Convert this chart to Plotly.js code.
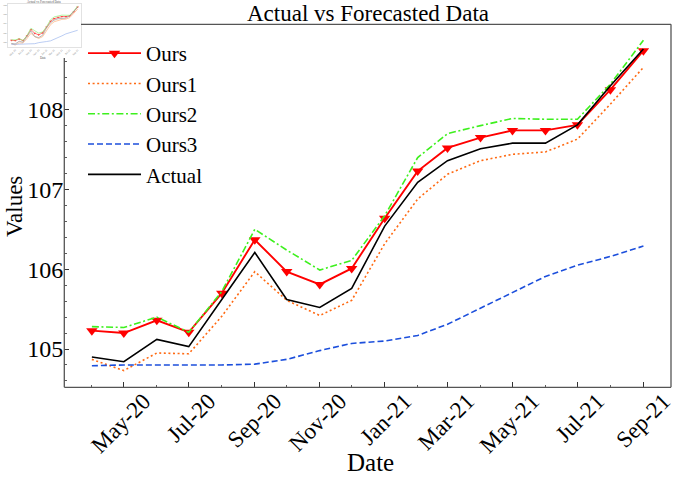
<!DOCTYPE html>
<html>
<head>
<meta charset="utf-8">
<script src="https://cdn.plot.ly/plotly-3.0.1.min.js"></script>
<style>
  html, body { margin: 0; padding: 0; background: #fff; }
  #chart { width: 675px; height: 478px; }
</style>
</head>
<body>
<div id="chart"></div>
<script>
// Monthly observations, Apr 2020 - Sep 2021
const dates = [
  '2020-04-01', '2020-05-01', '2020-06-01', '2020-07-01', '2020-08-01', '2020-09-01',
  '2020-10-01', '2020-11-01', '2020-12-01', '2021-01-01', '2021-02-01', '2021-03-01',
  '2021-04-01', '2021-05-01', '2021-06-01', '2021-07-01', '2021-08-01', '2021-09-01'
];
const ours  = [105.23, 105.20, 105.36, 105.21, 105.70, 106.37, 105.97, 105.81, 106.01,
               106.64, 107.23, 107.52, 107.65, 107.74, 107.74, 107.81, 108.25, 108.74];
const ours1 = [104.87, 104.73, 104.95, 104.94, 105.41, 105.97, 105.61, 105.42, 105.61,
               106.32, 106.88, 107.19, 107.36, 107.44, 107.47, 107.63, 108.07, 108.53];
const ours2 = [105.28, 105.27, 105.40, 105.21, 105.72, 106.50, 106.24, 105.99, 106.11,
               106.67, 107.40, 107.70, 107.80, 107.89, 107.88, 107.88, 108.32, 108.87];
const ours3 = [104.79, 104.80, 104.80, 104.80, 104.80, 104.81, 104.87, 104.98, 105.07,
               105.10, 105.17, 105.31, 105.51, 105.70, 105.91, 106.05, 106.16, 106.29];
const actual = [104.90, 104.84, 105.12, 105.03, 105.62, 106.21, 105.62, 105.52, 105.76,
                106.54, 107.09, 107.36, 107.51, 107.58, 107.58, 107.81, 108.30, 108.76];

const seriesNames = ['Ours', 'Ours1', 'Ours2', 'Ours3', 'Actual'];
const yTickVals = [105, 106, 107, 108];
const yRightTickVals = [105, 106, 107, 108, 109];

const W = 675, H = 478;
const SERIF = 'Liberation Serif, Times New Roman, serif';

// plot box in pixels
const box = { l: 64.3, r: 671, t: 24.3, b: 387.3 };
const px = v => v / W;
const py = v => 1 - v / H;
const xDom = [px(box.l), px(box.r)];
const yDom = [py(box.b), py(box.t)];

const xRange = ['2020-03-06 02:24', '2021-09-26 21:36'];
const yRange = [104.52, 109.07];

const colors = ['#ff0000', '#ff6a13', '#3ef01e', '#1c4fdc', '#000000'];
const values = [ours, ours1, ours2, ours3, actual];
const dashes = ['solid', '2px,2.6px', '7px,2.6px,2px,2.6px', '6px,3px', 'solid'];

const traces = [];
values.forEach((vals, i) => {
  const t = {
    type: 'scatter',
    x: dates, y: vals, name: seriesNames[i],
    mode: i === 0 ? 'lines+markers' : 'lines',
    line: { color: colors[i], width: i === 0 ? 1.9 : 1.6, dash: dashes[i] },
    xaxis: 'x', yaxis: 'y'
  };
  if (i === 0) t.marker = { symbol: 'triangle-down', size: 10, color: colors[0] };
  traces.push(t);
});

// small preview copy in the top-left corner
const insetColors = ['#ff4040', '#ffb27a', '#8ff07a', '#9db7ee', '#9a9a9a'];
values.forEach((vals, i) => {
  const t = {
    type: 'scatter',
    x: dates, y: vals, name: seriesNames[i], showlegend: false, hoverinfo: 'skip',
    mode: i === 0 ? 'lines+markers' : 'lines',
    line: { color: insetColors[i], width: 0.7 },
    xaxis: 'x3', yaxis: 'y3'
  };
  if (i === 0) t.marker = { symbol: 'triangle-down', size: 2.2, color: insetColors[0] };
  traces.push(t);
});

const yMinorLeft = [];
for (let v = 104.6; v < 108.7; v += 0.2) {
  const r = Math.round(v * 10) / 10;
  if (Math.abs(r - Math.round(r)) > 1e-6) yMinorLeft.push(r);
}

const tickCommon = { ticks: 'inside', ticklen: 5, tickwidth: 1, tickcolor: '#333', showgrid: false, zeroline: false, showline: false };
const minorCommon = { ticks: 'inside', ticklen: 2.5, tickwidth: 0.8, tickcolor: '#333', showgrid: false };

const frameColor = '#555';
const frameW = 1.3;
const shapes = [
  { type: 'line', xref: 'paper', yref: 'paper', x0: xDom[0], x1: xDom[1], y0: yDom[0], y1: yDom[0], line: { color: frameColor, width: frameW } },
  { type: 'line', xref: 'paper', yref: 'paper', x0: xDom[1], x1: xDom[1], y0: yDom[0], y1: yDom[1], line: { color: frameColor, width: frameW } },
  { type: 'line', xref: 'paper', yref: 'paper', x0: px(81), x1: xDom[1], y0: yDom[1], y1: yDom[1], line: { color: frameColor, width: frameW } },
  { type: 'line', xref: 'paper', yref: 'paper', x0: xDom[0], x1: xDom[0], y0: yDom[0], y1: py(58), line: { color: frameColor, width: frameW } }
];

const layout = {
  width: W, height: H,
  margin: { l: 0, r: 0, t: 0, b: 0, pad: 0 },
  paper_bgcolor: '#fff', plot_bgcolor: 'rgba(0,0,0,0)',
  font: { family: SERIF, color: '#000' },
  showlegend: true,
  title: {
    text: 'Actual vs Forecasted Data',
    font: { family: SERIF, size: 23, color: '#000' },
    xref: 'paper', yref: 'paper', x: px(368), xanchor: 'center', y: py(12.5), yanchor: 'middle'
  },
  xaxis: Object.assign({}, tickCommon, {
    type: 'date', domain: xDom, range: xRange, anchor: 'y',
    tick0: '2020-05-01', dtick: 'M2', tickformat: '%b-%y',
    tickangle: -45, ticklabelshift: 20, ticklabelstandoff: -5, ticklabeloverflow: 'allow',
    tickfont: { family: SERIF, size: 23, color: '#000' },
    minor: Object.assign({}, minorCommon, { tick0: '2020-04-01', dtick: 'M1' })
  }),
  xaxis2: Object.assign({}, tickCommon, {
    type: 'date', overlaying: 'x', side: 'top', anchor: 'y', range: xRange,
    tick0: '2020-05-01', dtick: 'M2', showticklabels: false,
    minor: Object.assign({}, minorCommon, { tick0: '2020-04-01', dtick: 'M1' })
  }),
  yaxis: Object.assign({}, tickCommon, {
    domain: yDom, range: yRange, anchor: 'x',
    tickmode: 'array', tickvals: yTickVals,
    tickfont: { family: SERIF, size: 24, color: '#000' },
    minor: Object.assign({}, minorCommon, { tickmode: 'array', tickvals: yMinorLeft })
  }),
  yaxis2: Object.assign({}, tickCommon, {
    overlaying: 'y', side: 'right', anchor: 'x', range: yRange,
    tickmode: 'array', tickvals: yRightTickVals, showticklabels: false,
    minor: Object.assign({}, minorCommon, { tick0: 104.6, dtick: 0.2 })
  }),
  xaxis3: {
    type: 'date', domain: [px(8), px(81)], range: xRange, anchor: 'y3',
    showgrid: false, zeroline: false, showline: true, mirror: true, linecolor: '#cfcfcf', linewidth: 0.6,
    ticks: '', tick0: '2020-05-01', dtick: 'M2', tickformat: '%b-%y', tickangle: -45,
    tickfont: { size: 2.6, color: '#777' }
  },
  yaxis3: {
    domain: [py(47), py(4)], range: yRange, anchor: 'x3',
    showgrid: false, zeroline: false, showline: true, mirror: true, linecolor: '#cfcfcf', linewidth: 0.6,
    ticks: '', tickvals: yRightTickVals, tickfont: { size: 2.6, color: '#777' }
  },
  legend: {
    x: px(83), xanchor: 'left', y: py(33), yanchor: 'top',
    bgcolor: 'rgba(0,0,0,0)', borderwidth: 0, itemwidth: 53,
    font: { family: SERIF, size: 21, color: '#000' }
  },
  annotations: [
    { text: 'Values', xref: 'paper', yref: 'paper', x: px(14), y: py(207), xanchor: 'center', yanchor: 'middle',
      textangle: -90, showarrow: false, font: { family: SERIF, size: 23, color: '#000' } },
    { text: 'Date', xref: 'paper', yref: 'paper', x: px(370), y: py(477.5), xanchor: 'center', yanchor: 'bottom',
      showarrow: false, font: { family: SERIF, size: 25, color: '#000' } },
    { text: 'Actual vs Forecasted Data', xref: 'paper', yref: 'paper', x: px(44), y: py(1.8), xanchor: 'center', yanchor: 'middle',
      showarrow: false, font: { family: SERIF, size: 3.2, color: '#555' } },
    { text: 'Date', xref: 'paper', yref: 'paper', x: px(44), y: py(58), xanchor: 'center', yanchor: 'middle',
      showarrow: false, font: { family: SERIF, size: 3.2, color: '#555' } }
  ],
  shapes: shapes
};

Plotly.newPlot('chart', traces, layout, { staticPlot: true, displayModeBar: false });
</script>
</body>
</html>
